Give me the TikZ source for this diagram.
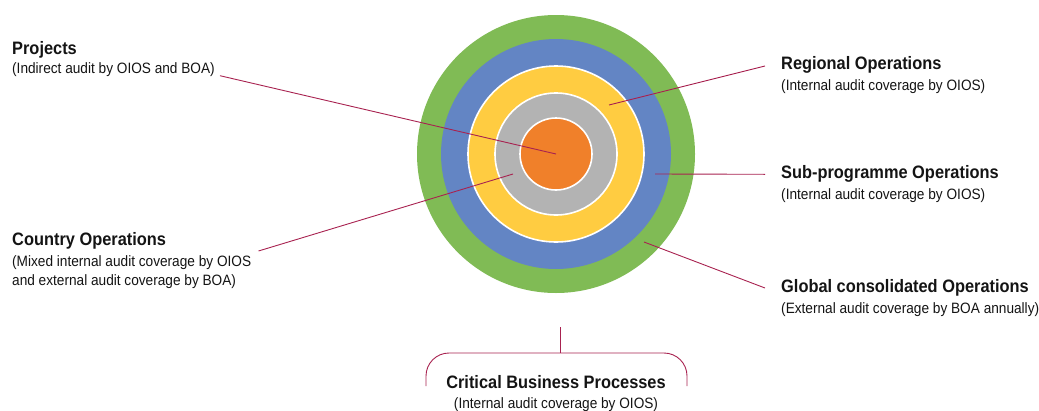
\documentclass[tikz,border=0pt]{standalone}
\usepackage{fontspec}
\setmainfont{Liberation Sans}[FakeStretch=0.91]
\definecolor{ringgreen}{RGB}{128,187,85}
\definecolor{ringblue}{RGB}{99,133,196}
\definecolor{ringyellow}{RGB}{255,204,65}
\definecolor{ringgray}{RGB}{179,179,179}
\definecolor{ringorange}{RGB}{240,128,42}
\definecolor{leader}{RGB}{168,34,80}
\definecolor{txt}{RGB}{20,20,20}
\tikzset{
  title/.style={font=\fontsize{18}{20}\selectfont\bfseries, text=txt, inner sep=0pt, anchor=base west},
  sub/.style={font=\fontsize{15}{18}\selectfont, text=txt, inner sep=0pt, anchor=base west},
  leaderline/.style={draw=leader, line width=0.9pt},
  ring/.style={line width=1.6pt, draw=white},
}
\begin{document}
\begin{tikzpicture}[x=1pt,y=-1pt]
\useasboundingbox (0,0) rectangle (1039,410);
% rings
\coordinate (c) at (556,154);
\fill[ringgreen] (c) circle (139);
\fill[ringblue] (c) circle (115);
\filldraw[ringyellow, ring] (c) circle (88);
\filldraw[ringgray, ring] (c) circle (61);
\filldraw[ringorange, ring] (c) circle (36);
% ring anchor points
\coordinate (pProj) at (556,154);
\coordinate (pReg) at (609,105);
\coordinate (pSub) at (655,174);
\coordinate (pGlob) at (644,242);
\coordinate (pCountry) at (513,174);
% labels
\node[title] (projT) at (12,54) {Projects};
\node[sub] (projS) at (12,73) {(Indirect audit by OIOS and BOA)};
\node[title] (countryT) at (12,245) {Country Operations};
\node[sub] (countryS1) at (12,266) {(Mixed internal audit coverage by OIOS};
\node[sub] (countryS2) at (12,285) {and external audit coverage by BOA)};
\node[title] (regT) at (781,69) {Regional Operations};
\node[sub] (regS) at (781,90) {(Internal audit coverage by OIOS)};
\node[title] (subT) at (781,178) {Sub-programme Operations};
\node[sub] (subS) at (781,199) {(Internal audit coverage by OIOS)};
\node[title] (globT) at (781,292.5) {Global consolidated Operations};
\node[sub] (globS) at (781,313) {(External audit coverage by BOA annually)};
\node[title, anchor=base] (critT) at (556,388.5) {Critical Business Processes};
\node[sub, anchor=base] (critS) at (556,408) {(Internal audit coverage by OIOS)};
% leader start points
\coordinate (lProj) at (220,75.7);
\coordinate (lCountry) at (258.5,251);
\coordinate (lReg) at (765,66);
\coordinate (lSub) at (765,174.3);
\coordinate (lGlob) at (765,288);
\coordinate (critTop) at (560,327);
\coordinate (critMid) at (560,353);
\coordinate (critL) at (426,386);
\coordinate (critR) at (687,386);
% leaders
\draw[leaderline] (lProj) -- (pProj);
\draw[leaderline] (lCountry) -- (pCountry);
\draw[leaderline] (lReg) -- (pReg);
\draw[leaderline] (lSub) -- (pSub);
\draw[leaderline] (lGlob) -- (pGlob);
\draw[leaderline] (critTop) -- (critMid);
\draw[leaderline, rounded corners=23pt] (critL) |- (critMid) -| (critR);
\end{tikzpicture}
\end{document}
